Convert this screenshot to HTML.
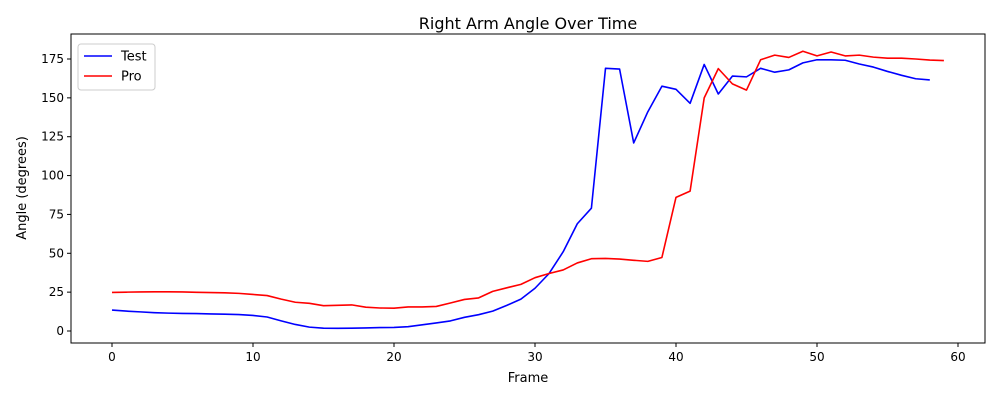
<!DOCTYPE html>
<html><head><meta charset="utf-8"><style>
body{margin:0;background:#fff;font-family:"Liberation Sans","DejaVu Sans",sans-serif}
svg text{font-family:"DejaVu Sans","Liberation Sans",sans-serif}
</style></head><body>
<svg id="chart" width="1000" height="400"></svg>
<script>
const testFrames=[...Array(59).keys()];
const testValues=[13.5,12.8,12.3,11.8,11.5,11.3,11.2,11,10.8,10.6,10,9,6.5,4.2,2.5,1.8,1.7,1.8,2,2.2,2.3,2.8,4,5.2,6.5,8.8,10.5,12.8,16.5,20.5,27.5,37,51,69,79,169,168.5,121,141,157.5,155.5,146.5,171.5,152.5,164,163.5,169,166.5,168,172.5,174.5,174.5,174.2,171.8,169.8,167,164.5,162.3,161.5];
const proFrames=[...Array(60).keys()];
const proValues=[24.8,25,25.1,25.2,25.2,25.1,24.9,24.7,24.6,24.2,23.5,22.8,20.5,18.5,17.8,16.3,16.5,16.8,15.3,14.8,14.7,15.5,15.5,15.8,18,20.3,21.3,25.5,27.8,30,34.3,37,39.3,43.8,46.5,46.7,46.3,45.5,44.8,47.3,86,90,150,168.8,159,155,174.5,177.5,176,180,177,179.5,177,177.5,176.2,175.5,175.5,175,174.3,174];
const xTicks=[0,10,20,30,40,50,60];
const yTicks=[0,25,50,75,100,125,150,175];
const NS="http://www.w3.org/2000/svg";
const svg=document.getElementById('chart');
const L=71,R=985,T=34,B=343;
const xs=v=>112+v*(958-112)/60;
const ys=v=>331-v*(331-59)/175;
function mk(t,a,txt){const e=document.createElementNS(NS,t);for(const k in a)e.setAttribute(k,a[k]);if(txt!==undefined)e.textContent=txt;svg.appendChild(e);return e;}
let e=mk('rect',{x:L,y:T,width:R-L,height:B-T,fill:'none',stroke:'#000','stroke-width':1});


xTicks.forEach(v=>{
 let t=mk('line',{x1:xs(v),x2:xs(v),y1:B,y2:B+4,stroke:'#000'});
 
 
 let l=mk('text',{x:xs(v),y:B+18,'text-anchor':'middle','font-size':12},v);
 
 
});
yTicks.forEach(v=>{
 let t=mk('line',{x1:L-4,x2:L,y1:ys(v),y2:ys(v),stroke:'#000'});
 
 
 let l=mk('text',{x:L-7,y:ys(v)+4,'text-anchor':'end','font-size':12},v);
 
 
});
function series(fr,vals,color,name){
 const p=mk('polyline',{points:vals.map((v,i)=>xs(fr[i])+','+ys(v)).join(' '),fill:'none',stroke:color,'stroke-width':1.6,'stroke-linejoin':'round'});
 
 
}
series(testFrames,testValues,'#0000ff','test-line');
series(proFrames,proValues,'#ff0000','pro-line');
e=mk('text',{x:528,y:29,'text-anchor':'middle','font-size':16},'Right Arm Angle Over Time');


e=mk('text',{x:528,y:382,'text-anchor':'middle','font-size':13},'Frame');


e=mk('text',{x:26,y:188,'text-anchor':'middle','font-size':13,transform:'rotate(-90 26 188)'},'Angle (degrees)');


e=mk('rect',{x:78,y:44,width:77,height:46,rx:3,fill:'#fff',stroke:'#ccc'});


[['Test','#0000ff',56],['Pro','#ff0000',76]].forEach(([n,c,y])=>{
 let l=mk('line',{x1:84,x2:112,y1:y,y2:y,stroke:c,'stroke-width':1.6});
 
 
 let t=mk('text',{x:121,y:y+4.5,'font-size':13},n);
 
 
});
</script>
</body></html>
